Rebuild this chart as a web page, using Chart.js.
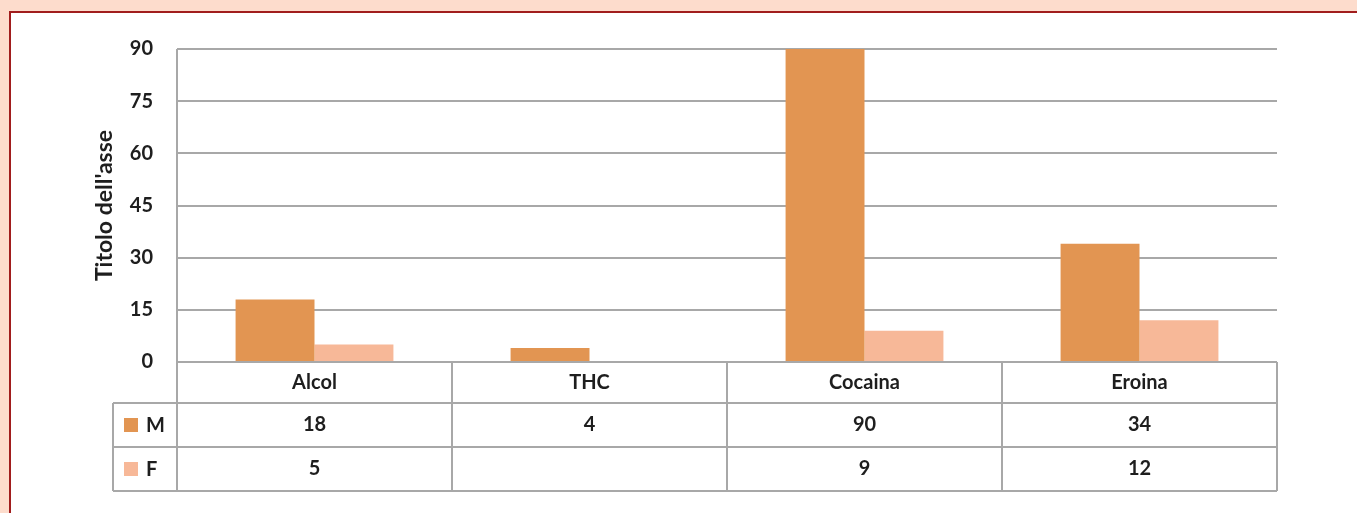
<!DOCTYPE html>
<html lang="it">
<head>
<meta charset="UTF-8">
<title>Sostanze per sesso</title>
<script src="https://cdn.jsdelivr.net/npm/chart.js"></script>
<style>
    html, body { margin: 0; padding: 0; background: #fddccc; overflow: hidden; }
    .pannello {
        position: absolute; left: 9px; top: 11px; width: 1400px; height: 560px;
        background: #fff; border: 2px solid #a11d1d;
    }
    #wrap { position: absolute; left: 0; top: 0; width: 1357px; height: 513px; }
</style>
</head>
<body>
<div class="pannello"></div>
<div id="wrap"><canvas id="grafico" width="1357" height="513"></canvas></div>

<script>
    // dati della tabella
    const sostanze = ['Alcol', 'THC', 'Cocaina', 'Eroina'];
    const maschi = [18, 4, 90, 34];
    const femmine = [5, null, 9, 12];
    const serie = ['M', 'F'];
    const colori = ['#e29552', '#f7b898'];
    const tickY = [0, 15, 30, 45, 60, 75, 90];

    const FONT = 'Lato, "Open Sans", sans-serif';
    const GRIGIO = '#a8a8a8';
    const TESTO = '#1e1e1e';

    // tabella dati sotto l'asse x
    const tabellaDati = {
        id: 'tabellaDati',
        afterDraw(chart) {
            const ctx = chart.ctx;
            const x = chart.scales.x;
            const area = chart.chartArea;
            const passo = x.getPixelForValue(1) - x.getPixelForValue(0);
            const sx = area.left, dx = area.right;
            const legSx = sx - 64;
            const righe = [area.bottom, area.bottom + 41, area.bottom + 85, area.bottom + 129];

            ctx.save();
            ctx.strokeStyle = GRIGIO;
            ctx.lineWidth = 2;
            ctx.beginPath();
            // linee orizzontali
            ctx.moveTo(sx, righe[0]); ctx.lineTo(dx, righe[0]);
            for (let r = 1; r < righe.length; r++) {
                ctx.moveTo(legSx, righe[r]); ctx.lineTo(dx, righe[r]);
            }
            // asse verticale e separatori
            ctx.moveTo(sx, area.top); ctx.lineTo(sx, righe[3]);
            ctx.moveTo(legSx, righe[1]); ctx.lineTo(legSx, righe[3]);
            for (let i = 0; i < sostanze.length; i++) {
                const px = x.getPixelForValue(i) + passo / 2;
                ctx.moveTo(px, righe[0]); ctx.lineTo(px, righe[3]);
            }
            ctx.stroke();

            ctx.fillStyle = TESTO;
            ctx.font = 'bold 20px ' + FONT;
            ctx.textAlign = 'center';
            ctx.textBaseline = 'middle';
            sostanze.forEach((s, i) => {
                const cx = x.getPixelForValue(i);
                ctx.fillText(s, cx, (righe[0] + righe[1]) / 2);
                if (maschi[i] != null) ctx.fillText(String(maschi[i]), cx, (righe[1] + righe[2]) / 2);
                if (femmine[i] != null) ctx.fillText(String(femmine[i]), cx, (righe[2] + righe[3]) / 2);
            });

            // legenda nella colonna sinistra
            serie.forEach((nome, k) => {
                const cy = (righe[k + 1] + righe[k + 2]) / 2;
                ctx.fillStyle = colori[k];
                ctx.fillRect(legSx + 11, cy - 7, 14, 14);
                ctx.fillStyle = TESTO;
                ctx.textAlign = 'left';
                ctx.fillText(nome, legSx + 33, cy + 1);
            });
            ctx.restore();
        }
    };

    new Chart(document.getElementById('grafico'), {
        type: 'bar',
        data: {
            labels: sostanze,
            datasets: [
                { label: serie[0], data: maschi, backgroundColor: colori[0] },
                { label: serie[1], data: femmine, backgroundColor: colori[1] }
            ]
        },
        options: {
            responsive: false,
            animation: false,
            events: [],
            layout: { padding: { left: 80, right: 80, top: 49, bottom: 0 } },
            datasets: { bar: { categoryPercentage: 0.574, barPercentage: 1 } },
            plugins: { legend: { display: false }, tooltip: { enabled: false } },
            scales: {
                x: {
                    ticks: { display: false },
                    grid: { display: false },
                    border: { display: false },
                    afterFit(s) { s.height = 151; }
                },
                y: {
                    min: 0, max: 90,
                    afterBuildTicks(s) { s.ticks = tickY.map(v => ({ value: v })); },
                    ticks: { color: TESTO, font: { family: FONT, size: 20, weight: 'bold' }, padding: 24 },
                    grid: { color: GRIGIO, lineWidth: 2, drawTicks: false },
                    border: { display: false },
                    title: {
                        display: true, text: "Titolo dell'asse", color: TESTO,
                        font: { family: FONT, size: 23, weight: 'bold' }, padding: { top: 11, bottom: 0 }
                    },
                    afterFit(s) { s.width = 97; }
                }
            }
        },
        plugins: [tabellaDati]
    });
</script>
</body>
</html>
